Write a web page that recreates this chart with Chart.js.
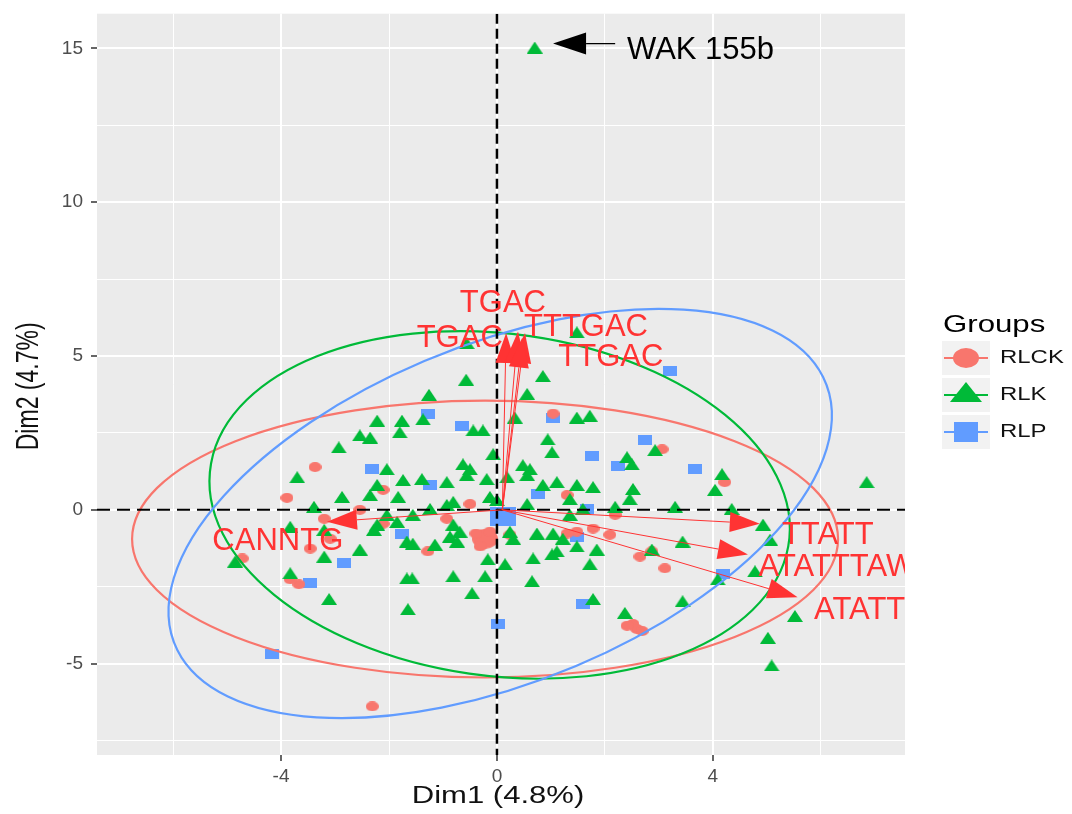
<!DOCTYPE html>
<html>
<head>
<meta charset="utf-8">
<script src="https://cdn.jsdelivr.net/npm/chart.js@4.4.0/dist/chart.umd.min.js"></script>
<style>
  html, body { margin: 0; padding: 0; background: #fff; }
  #grafico { display: block; }
</style>
</head>
<body>
<canvas id="grafico" width="1072" height="814"></canvas>
<script>
//DATOS
const grupos = ['RLCK', 'RLK', 'RLP']
const colores = ['#F8766D', '#00BA38', '#619CFF']

const rlkX = [0.70, 1.48, -0.56, -0.57, 0.85, -1.26, 0.56, 1.48, 1.72, -2.22, -1.76, -1.37, -0.44, -0.26, 0.33, -2.35, -1.80, 0.94, 1.02, -0.07,
  2.41, 2.50, -2.04, -0.63, -0.50, 0.48, 0.61, -2.54, -2.93, -3.70, -2.87, -2.35, -3.39, -3.83, -3.20, -3.20, -2.54, -2.28, -4.85, -3.83,
  -3.11, -1.74, -1.39, -0.93, -0.56, -0.19, 0.19, 0.56, 0.85, 1.11, 1.48, 1.78, 2.52, 2.46, -2.22, -1.83, -0.81, -0.93, -0.13, 0.00,
  1.35, 0.56, -1.24, -1.56, 1.59, 2.19, 1.35, -2.04, -1.85, -2.22, -0.81, -0.69, -0.87, -0.74, -1.67, -1.56, -1.15, 0.30, 0.24, 0.74,
  1.04, 1.22, 1.11, 1.02, 1.48, 1.85, 0.67, -0.17, 0.15, 1.72, -1.67, -1.57, -0.81, -0.22, 0.65, -0.46, 1.78, -1.65, 2.37, 6.85,
  4.17, 4.04, 3.30, 4.35, 4.93, 5.06, 3.44, 2.87, 4.78, 4.09, 3.44, 5.52, 5.02, 5.09, 2.93]
const rlkY = [15.03, 5.77, 5.42, 4.23, 4.35, 3.74, 3.77, 3.00, 3.06, 2.90, 2.90, 2.94, 2.58, 2.58, 3.00, 2.35, 2.52, 2.29, 1.87, 1.81,
  1.71, 1.48, 1.32, 1.48, 1.32, 1.45, 1.32, 2.42, 2.03, 1.06, 0.42, 0.48, 0.10, -0.55, -0.65, -1.52, -1.29, -0.65, -1.68, -2.06,
  -2.90, 0.97, 1.00, 0.90, 1.13, 1.00, 1.06, 1.13, 0.81, 0.90, 0.81, 0.74, 0.68, 0.35, 0.81, 0.42, 0.26, 0.16, 0.42, 0.32,
  0.35, 0.19, 0.03, -0.16, 0.03, 0.10, -0.16, -0.16, -0.39, -0.48, -0.48, -0.71, -0.87, -1.03, -1.03, -1.10, -1.13, -0.94, -0.71, -0.77,
  -0.77, -0.94, -1.35, -1.45, -1.19, -1.29, -1.58, -1.61, -1.77, -1.77, -2.23, -2.23, -2.16, -2.16, -2.32, -2.71, -2.90, -3.23, -3.35, 0.90,
  1.16, 0.65, 0.10, 0.03, -0.48, -0.97, -1.03, -1.29, -2.00, -2.26, -2.97, -3.45, -4.16, -5.06, 1.94]

const rlckX = [1.04, 3.06, 4.22, -3.37, -3.89, -2.54, -3.20, -3.09, -3.46, -4.72, -3.67, -3.83, -2.31, -2.11, -0.50, 1.30, 2.19, -2.11,
  -0.93, -1.28, 0.24, 1.48, 1.30, 1.78, 2.09, 2.65, 2.87, 3.11, 2.52, 2.59, 2.41, 2.69, -0.39, -0.13, -0.31]
const rlckY = [3.13, 1.97, 0.90, 1.39, 0.39, 0.00, -0.29, -0.94, -1.26, -1.58, -2.42, -2.26, -6.39, 0.65, 0.19, 0.48, -0.16, -0.45,
  -0.29, -1.35, -0.81, -0.71, -0.77, -0.61, -0.81, -1.52, -1.35, -1.90, -3.71, -3.87, -3.77, -3.94, -0.77, -0.71, -1.19]

const rlpX = [-1.28, 1.04, -0.65, 1.76, 2.24, 2.74, -2.31, 3.20, 3.67, -1.24, 0.76, 1.67, 1.48, -1.76, -2.83, -3.46, -4.17, 1.59, 0.02, 4.19]
const rlpY = [3.10, 2.97, 2.74, 1.74, 1.42, 2.26, 1.32, 4.52, 1.32, 0.81, 0.52, 0.03, -0.87, -0.77, -1.74, -2.39, -4.68, -3.06, -3.71, -2.10]

//CENTROS DE GRUPO
const mediaX = [-0.22, 0.11]
const mediaY = [-0.94, -0.23]

//ELIPSES (centro, semiejes, angulo en grados) EN ORDEN RLCK, RLK, RLP
const elipseCX = [-0.22, 0.05, 0.06]
const elipseCY = [-0.95, 0.16, -0.12]
const elipseA = [6.54, 5.9, 7.8]
const elipseB = [4.5, 5.1, 4.6]
const elipseAng = [0, -55, 49.7]

//VARIABLES (flechas)
const variables = ['TGAC', 'TGAC', 'TTTGAC', 'TTGAC', 'CANNTG', 'TTATT', 'ATATTTAWW', 'ATATT']
const varX = [0.17, 0.39, 0.52, 0.47, -3.15, 4.87, 4.65, 5.57]
const varY = [5.75, 5.80, 5.75, 5.60, -0.39, -0.45, -1.45, -2.84]
const etiquetaX = [0.11, -0.69, 1.65, 2.11, -4.06, 6.13, 6.57, 6.72]
const etiquetaY = [6.71, 5.58, 5.94, 4.97, -1.03, -0.84, -1.87, -3.26]
const origenFlecha = [0.1, 0]

//ANOTACION
const notaTexto = 'WAK 155b'
const notaPunta = [1.04, 15.16]
const notaCola = [2.19, 15.16]
const notaPos = [2.41, 14.95]

//EJES
const xMin = -7.41, xMax = 7.56
const yMin = -7.97, yMax = 16.13
const xGrid = [-6, -4, -2, 0, 2, 4, 6]
const xMajor = [-4, 0, 4]
const yGrid = [-7.5, -5, -2.5, 0, 2.5, 5, 7.5, 10, 12.5, 15]
const yMajor = [-5, 0, 5, 10, 15]

const fuente = '"Liberation Sans", Arial, sans-serif'

//MARCAS DE PUNTO (dibujadas algo anchas como en la imagen)
function marca(forma, w, h, color) {
    const c = document.createElement('canvas')
    c.width = w
    c.height = h
    const g = c.getContext('2d')
    g.fillStyle = color
    g.beginPath()
    if (forma === 'circulo') g.ellipse(w / 2, h / 2, w / 2, h / 2, 0, 0, Math.PI * 2)
    else if (forma === 'triangulo') { g.moveTo(w / 2, 0); g.lineTo(w, h); g.lineTo(0, h); g.closePath() }
    else g.rect(0, 0, w, h)
    g.fill()
    return c
}

function puntos(xs, ys) {
    return xs.map((x, i) => ({ x: x, y: ys[i] }))
}

function texto(ctx, str, x, y, size, color, align, base, stretch) {
    ctx.save()
    ctx.translate(x, y)
    ctx.scale(stretch, 1)
    ctx.font = size + 'px ' + fuente
    ctx.fillStyle = color
    ctx.textAlign = align
    ctx.textBaseline = base
    ctx.fillText(str, 0, 0)
    ctx.restore()
}

function flecha(ctx, x0, y0, x1, y1, color, largo, ancho, grosor) {
    const ang = Math.atan2(y1 - y0, x1 - x0)
    const bx = x1 - largo * Math.cos(ang)
    const by = y1 - largo * Math.sin(ang)
    ctx.strokeStyle = color
    ctx.lineWidth = grosor
    ctx.setLineDash([])
    ctx.beginPath()
    ctx.moveTo(x0, y0)
    ctx.lineTo(bx, by)
    ctx.stroke()
    ctx.fillStyle = color
    ctx.beginPath()
    ctx.moveTo(x1, y1)
    ctx.lineTo(bx + ancho * Math.sin(ang), by - ancho * Math.cos(ang))
    ctx.lineTo(bx - ancho * Math.sin(ang), by + ancho * Math.cos(ang))
    ctx.closePath()
    ctx.fill()
}

//FONDO DEL PANEL
const fondo = {
    id: 'fondo',
    beforeDraw(chart) {
        const { ctx, chartArea: a } = chart
        ctx.save()
        ctx.fillStyle = '#EBEBEB'
        ctx.fillRect(a.left, a.top, a.right - a.left, a.bottom - a.top)
        ctx.restore()
    }
}

//ELIPSES, LINEAS DISCONTINUAS, FLECHAS, TEXTOS Y LEYENDA
const extras = {
    id: 'extras',
    afterDatasetsDraw(chart) {
        const { ctx, chartArea: a, scales: { x, y } } = chart
        const sx = x.getPixelForValue(1) - x.getPixelForValue(0)
        const sy = y.getPixelForValue(0) - y.getPixelForValue(1)

        ctx.save()
        ctx.beginPath()
        ctx.rect(a.left, a.top, a.right - a.left, a.bottom - a.top)
        ctx.clip()

        for (let i = 0; i < 3; i++) {
            ctx.save()
            ctx.translate(x.getPixelForValue(elipseCX[i]), y.getPixelForValue(elipseCY[i]))
            ctx.scale(sx, -sy)
            ctx.rotate(elipseAng[i] * Math.PI / 180)
            ctx.beginPath()
            ctx.ellipse(0, 0, elipseA[i], elipseB[i], 0, 0, Math.PI * 2)
            ctx.restore()
            ctx.strokeStyle = colores[i]
            ctx.lineWidth = 2.2
            ctx.stroke()
        }

        ctx.strokeStyle = '#000'
        ctx.lineWidth = 2.5
        ctx.setLineDash([10, 5])
        ctx.beginPath()
        ctx.moveTo(x.getPixelForValue(0), a.top)
        ctx.lineTo(x.getPixelForValue(0), a.bottom)
        ctx.stroke()
        ctx.lineWidth = 2
        ctx.setLineDash([13, 7])
        ctx.beginPath()
        ctx.moveTo(a.left, y.getPixelForValue(0))
        ctx.lineTo(a.right, y.getPixelForValue(0))
        ctx.stroke()
        ctx.setLineDash([])

        const ox = x.getPixelForValue(origenFlecha[0])
        const oy = y.getPixelForValue(origenFlecha[1])
        variables.forEach((v, i) => {
            flecha(ctx, ox, oy, x.getPixelForValue(varX[i]), y.getPixelForValue(varY[i]), '#FF3333', 30, 10, 1)
        })
        variables.forEach((v, i) => {
            texto(ctx, v, x.getPixelForValue(etiquetaX[i]), y.getPixelForValue(etiquetaY[i]), 31, '#FF3333', 'center', 'middle', 1)
        })

        flecha(ctx, x.getPixelForValue(notaCola[0]), y.getPixelForValue(notaCola[1]),
            x.getPixelForValue(notaPunta[0]), y.getPixelForValue(notaPunta[1]), '#000', 33, 11, 1.2)
        ctx.restore()

        texto(ctx, notaTexto, x.getPixelForValue(notaPos[0]), y.getPixelForValue(notaPos[1]), 31, '#000', 'left', 'middle', 1)
    },
    afterDraw(chart) {
        const { ctx, chartArea: a } = chart
        //TITULOS DE EJE
        texto(ctx, 'Dim1 (4.8%)', (a.left + a.right) / 2 - 3, 803, 23, '#111', 'center', 'alphabetic', 1.35)
        ctx.save()
        ctx.translate(38, (a.top + a.bottom) / 2 + 2)
        ctx.rotate(-Math.PI / 2)
        ctx.scale(1, 1.33)
        ctx.font = '23px ' + fuente
        ctx.fillStyle = '#111'
        ctx.textAlign = 'center'
        ctx.textBaseline = 'alphabetic'
        ctx.fillText('Dim2 (4.7%)', 0, 0)
        ctx.restore()

        //LEYENDA
        texto(ctx, 'Groups', 943, 332, 24, '#000', 'left', 'alphabetic', 1.3)
        const centros = [358, 395, 432]
        grupos.forEach((g, i) => {
            const cy = centros[i]
            ctx.fillStyle = '#F2F2F2'
            ctx.fillRect(942, cy - 17, 48, 34)
            ctx.strokeStyle = colores[i]
            ctx.lineWidth = 2
            ctx.beginPath()
            ctx.moveTo(944, cy)
            ctx.lineTo(988, cy)
            ctx.stroke()
            ctx.fillStyle = colores[i]
            ctx.beginPath()
            if (i === 0) ctx.ellipse(966, cy, 13, 10, 0, 0, Math.PI * 2)
            else if (i === 1) { ctx.moveTo(966, cy - 13); ctx.lineTo(982, cy + 7); ctx.lineTo(950, cy + 7); ctx.closePath() }
            else ctx.rect(954, cy - 10, 24, 20)
            ctx.fill()
            texto(ctx, g, 1000, cy, 18, '#111', 'left', 'middle', 1.33)
        })
    }
}

const dTri = marca('triangulo', 16, 12, colores[1])
const dCir = marca('circulo', 13, 10, colores[0])
const dCua = marca('cuadrado', 14, 10, colores[2])
const dCirG = marca('circulo', 26, 20, colores[0])
const dCuaG = marca('cuadrado', 26, 19, colores[2])

// el radio solo afecta al margen automatico; la forma la da la imagen
const ctx = document.querySelector('#grafico').getContext('2d')
new Chart(ctx, {
    type: 'scatter',
    data: {
        datasets: [
            { label: 'RLK', data: puntos(rlkX, rlkY), pointStyle: dTri, pointRadius: 3, backgroundColor: colores[1] },
            { label: 'RLCK', data: puntos(rlckX, rlckY), pointStyle: dCir, pointRadius: 3, backgroundColor: colores[0] },
            { label: 'RLP', data: puntos(rlpX, rlpY), pointStyle: dCua, pointRadius: 3, backgroundColor: colores[2] },
            { label: 'RLCK media', data: [{ x: mediaX[0], y: mediaY[0] }], pointStyle: dCirG, pointRadius: 3 },
            { label: 'RLP media', data: [{ x: mediaX[1], y: mediaY[1] }], pointStyle: dCuaG, pointRadius: 3 }
        ]
    },
    options: {
        responsive: false,
        devicePixelRatio: 1,
        animation: false,
        layout: { autoPadding: false, padding: { left: 0, right: 167, top: 8, bottom: 0 } },
        plugins: { legend: { display: false }, tooltip: { enabled: false } },
        scales: {
            x: {
                type: 'linear', min: xMin, max: xMax,
                afterBuildTicks: s => { s.ticks = xGrid.map(v => ({ value: v })) },
                afterFit: s => { s.height = 59 },
                ticks: {
                    autoSkip: false, maxRotation: 0, padding: 4, color: '#4D4D4D',
                    font: { size: 19, family: fuente },
                    callback: v => xMajor.includes(v) ? String(v) : ''
                },
                grid: {
                    color: '#FFFFFF',
                    lineWidth: c => xMajor.includes(c.tick.value) ? 2 : 1,
                    tickLength: 6,
                    tickWidth: 1.5,
                    tickColor: c => xMajor.includes(c.tick.value) ? '#333333' : 'rgba(0,0,0,0)'
                },
                border: { display: false }
            },
            y: {
                type: 'linear', min: yMin, max: yMax,
                afterBuildTicks: s => { s.ticks = yGrid.map(v => ({ value: v })) },
                afterFit: s => { s.width = 97 },
                ticks: {
                    autoSkip: false, padding: 8, color: '#4D4D4D',
                    font: { size: 19, family: fuente, lineHeight: 0.6 },
                    callback: v => yMajor.includes(v) ? String(v) : ''
                },
                grid: {
                    color: '#FFFFFF',
                    lineWidth: c => yMajor.includes(c.tick.value) ? 2 : 1,
                    tickLength: 6,
                    tickWidth: 1.5,
                    tickColor: c => yMajor.includes(c.tick.value) ? '#333333' : 'rgba(0,0,0,0)'
                },
                border: { display: false }
            }
        }
    },
    plugins: [fondo, extras]
})
</script>
</body>
</html>
